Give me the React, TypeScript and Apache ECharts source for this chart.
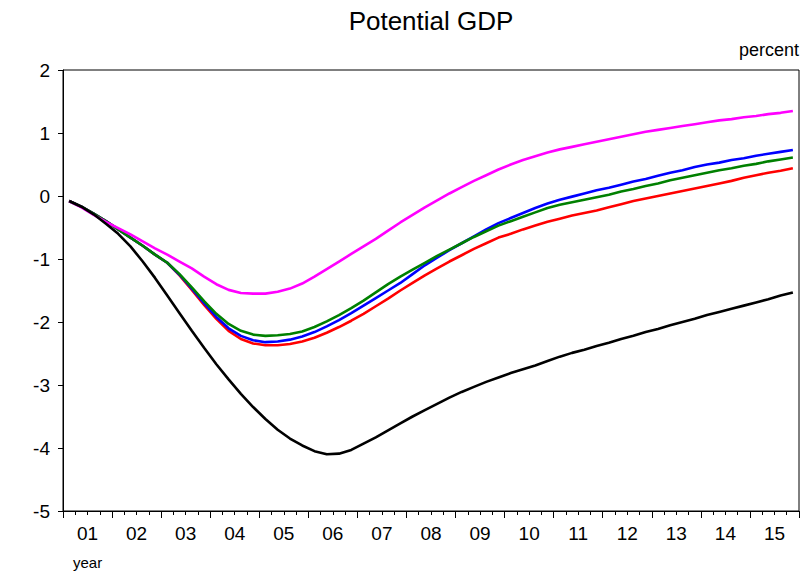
import React, { useEffect, useRef } from "react";
import * as echarts from "echarts";

const yearLabels = ["01", "02", "03", "04", "05", "06", "07", "08", "09", "10", "11", "12", "13", "14", "15"];
const yTicks = [-5, -4, -3, -2, -1, 0, 1, 2];

// quarterly values, 2001Q1 .. 2015Q4
const magentaSeries = [
  -0.08, -0.18, -0.30, -0.41, -0.51, -0.61, -0.72, -0.83, -0.93, -1.04,
  -1.15, -1.28, -1.40, -1.49, -1.54, -1.55, -1.55, -1.52, -1.47, -1.39,
  -1.28, -1.16, -1.04, -0.92, -0.80, -0.68, -0.55, -0.42, -0.30, -0.18,
  -0.07, 0.04, 0.14, 0.24, 0.33, 0.42, 0.50, 0.57, 0.63, 0.69,
  0.74, 0.78, 0.82, 0.86, 0.90, 0.94, 0.98, 1.02, 1.05, 1.08,
  1.11, 1.14, 1.17, 1.20, 1.22, 1.25, 1.27, 1.30, 1.32, 1.35,
];
const blueSeries = [
  -0.08, -0.17, -0.28, -0.40, -0.53, -0.66, -0.79, -0.93, -1.06, -1.25,
  -1.47, -1.70, -1.92, -2.10, -2.22, -2.29, -2.32, -2.31, -2.28, -2.23,
  -2.16, -2.07, -1.97, -1.86, -1.74, -1.62, -1.50, -1.38, -1.24, -1.10,
  -0.98, -0.86, -0.75, -0.64, -0.53, -0.43, -0.35, -0.27, -0.19, -0.12,
  -0.06, -0.01, 0.04, 0.09, 0.13, 0.18, 0.23, 0.27, 0.32, 0.37,
  0.41, 0.46, 0.50, 0.53, 0.57, 0.60, 0.64, 0.67, 0.70, 0.73,
];
const greenSeries = [
  -0.08, -0.17, -0.28, -0.40, -0.53, -0.66, -0.79, -0.93, -1.06, -1.24,
  -1.45, -1.67, -1.87, -2.03, -2.14, -2.20, -2.22, -2.21, -2.19, -2.15,
  -2.08, -1.99, -1.89, -1.78, -1.66, -1.53, -1.40, -1.28, -1.17, -1.06,
  -0.95, -0.85, -0.75, -0.65, -0.56, -0.47, -0.40, -0.33, -0.26, -0.19,
  -0.14, -0.10, -0.06, -0.02, 0.02, 0.07, 0.11, 0.16, 0.20, 0.25,
  0.29, 0.33, 0.37, 0.41, 0.44, 0.48, 0.51, 0.55, 0.58, 0.61,
];
const redSeries = [
  -0.08, -0.17, -0.28, -0.40, -0.53, -0.66, -0.79, -0.93, -1.06, -1.26,
  -1.49, -1.73, -1.95, -2.14, -2.27, -2.34, -2.37, -2.37, -2.35, -2.31,
  -2.25, -2.17, -2.08, -1.98, -1.87, -1.75, -1.63, -1.50, -1.38, -1.26,
  -1.15, -1.04, -0.94, -0.84, -0.75, -0.66, -0.60, -0.53, -0.47, -0.41,
  -0.36, -0.31, -0.27, -0.23, -0.18, -0.13, -0.08, -0.04, 0.00, 0.04,
  0.08, 0.12, 0.16, 0.20, 0.24, 0.29, 0.33, 0.37, 0.40, 0.44,
];
const blackSeries = [
  -0.08, -0.17, -0.29, -0.44, -0.60, -0.80, -1.04, -1.30, -1.58, -1.86,
  -2.14, -2.41, -2.67, -2.91, -3.14, -3.35, -3.54, -3.71, -3.85, -3.96,
  -4.05, -4.10, -4.09, -4.03, -3.93, -3.83, -3.72, -3.61, -3.50, -3.40,
  -3.30, -3.20, -3.11, -3.03, -2.95, -2.88, -2.81, -2.75, -2.69, -2.62,
  -2.55, -2.49, -2.44, -2.38, -2.33, -2.27, -2.22, -2.16, -2.11, -2.05,
  -2.00, -1.95, -1.89, -1.84, -1.79, -1.74, -1.69, -1.64, -1.58, -1.53,
];

const FONT = "'Liberation Sans', Arial, Helvetica, sans-serif";

export default function App() {
  const ref = useRef<HTMLDivElement>(null);
  useEffect(() => {
    const chart = echarts.init(ref.current as HTMLDivElement, null, { renderer: "svg" });
    const pts = (arr: number[]) => arr.map((v, i) => [i + 0.5, v]);
    const mk = (name: string, data: number[], color: string) => ({
      name,
      type: "line",
      xAxisIndex: 0,
      yAxisIndex: 0,
      data: pts(data),
      showSymbol: false,
      symbol: "none",
      smooth: false,
      lineStyle: { color, width: 2.6 },
      itemStyle: { color },
    });
    chart.setOption({
      animation: false,
      backgroundColor: "#ffffff",
      textStyle: { fontFamily: FONT },
      grid: {
        left: 63,
        top: 70,
        width: 736,
        height: 441,
        show: true,
        borderColor: "#000",
        borderWidth: 1,
        backgroundColor: "transparent",
        containLabel: false,
      },
      xAxis: [
        {
          type: "value",
          min: 0,
          max: 60,
          interval: 4,
          position: "bottom",
          axisLine: { show: true, onZero: false, lineStyle: { color: "#000", width: 1 } },
          axisTick: { show: true, length: 7, lineStyle: { color: "#000", width: 1 } },
          minorTick: { show: true, splitNumber: 4, length: 4, lineStyle: { color: "#000", width: 1 } },
          axisLabel: { show: false },
          splitLine: { show: false },
          minorSplitLine: { show: false },
        },
        {
          type: "category",
          data: yearLabels,
          position: "bottom",
          boundaryGap: true,
          axisLine: { show: false },
          axisTick: { show: false },
          axisLabel: { show: true, color: "#000", fontSize: 19, fontFamily: FONT, margin: 13, interval: 0 },
          splitLine: { show: false },
        },
      ],
      yAxis: {
        type: "value",
        min: yTicks[0],
        max: yTicks[yTicks.length - 1],
        interval: 1,
        axisLine: { show: true, onZero: false, lineStyle: { color: "#000", width: 1 } },
        axisTick: { show: true, length: 5, lineStyle: { color: "#000", width: 1 } },
        axisLabel: { color: "#000", fontSize: 19, fontFamily: FONT, margin: 13 },
        splitLine: { show: false },
      },
      graphic: [
        {
          type: "text",
          x: 431,
          y: 21,
          style: { text: "Potential GDP", font: `26px ${FONT}`, fill: "#000", textAlign: "center", textVerticalAlign: "middle" },
        },
        {
          type: "text",
          x: 799,
          y: 50,
          style: { text: "percent", font: `18px ${FONT}`, fill: "#000", textAlign: "right", textVerticalAlign: "middle" },
        },
        {
          type: "text",
          x: 73,
          y: 562,
          style: { text: "year", font: `15px ${FONT}`, fill: "#000", textAlign: "left", textVerticalAlign: "middle" },
        },
      ],
      series: [
        mk("Red", redSeries, "#ff0000"),
        mk("Blue", blueSeries, "#0000ff"),
        mk("Green", greenSeries, "#008000"),
        mk("Magenta", magentaSeries, "#ff00ff"),
        mk("Black", blackSeries, "#000000"),
      ],
    });
    return () => chart.dispose();
  }, []);
  return (
    <div
      ref={ref}
      style={{ position: "fixed", left: 0, top: 0, width: 811, height: 574, background: "#fff" }}
    />
  );
}
